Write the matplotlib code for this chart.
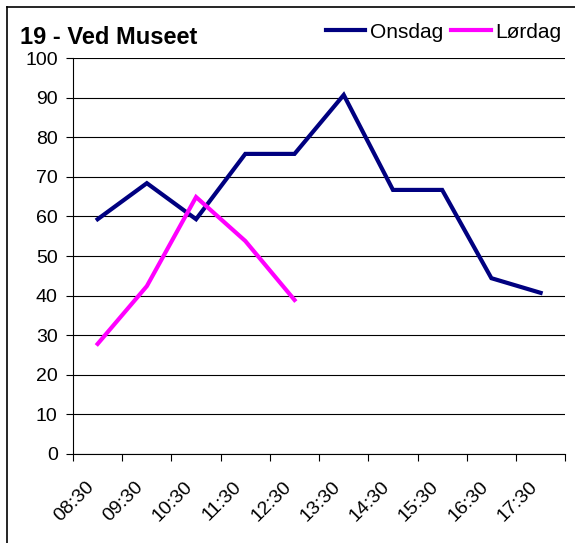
import matplotlib
matplotlib.use('Agg')
import matplotlib.pyplot as plt
import matplotlib.transforms as mtransforms
import numpy as np

plt.rcParams['font.family'] = ['Liberation Sans', 'DejaVu Sans']

times = ['08:30', '09:30', '10:30', '11:30', '12:30', '13:30', '14:30', '15:30', '16:30', '17:30']
onsdag = [59.3, 68.4, 59.3, 75.8, 75.8, 90.7, 66.7, 66.7, 44.4, 40.7]
lordag = [27.8, 42.4, 64.9, 53.8, 38.9]

fig = plt.figure(figsize=(5.75, 5.43), dpi=100)
ax = fig.add_axes([0.127, 0.164, 0.856, 0.729])

x = np.arange(len(times))
ax.plot(x, onsdag, color='#000080', lw=3, label='Onsdag', solid_joinstyle='miter')
ax.plot(x[:len(lordag)], lordag, color='#FF00FF', lw=3, label='Lørdag', solid_joinstyle='miter')

ax.set_xlim(-0.5, len(times) - 0.5)
ax.set_ylim(0, 100)
ax.set_yticks(range(0, 101, 10))
ax.yaxis.grid(True, color='black', lw=0.8)
ax.set_axisbelow(True)
ax.tick_params(axis='y', labelsize=14, length=5, width=0.8, direction='out', pad=6)

ax.set_xticks(x)
ax.set_xticklabels(times, rotation=45, ha='right', va='top', rotation_mode='anchor', fontsize=14)
ax.tick_params(axis='x', length=0, pad=14)
shift = mtransforms.ScaledTranslation(-0.12, -0.05, fig.dpi_scale_trans)
for lab in ax.get_xticklabels():
    lab.set_transform(lab.get_transform() + shift)
ax.set_xticks(np.arange(-0.5, len(times)), minor=True)
ax.tick_params(axis='x', which='minor', length=5, width=0.8)

for s in ['top', 'right']:
    ax.spines[s].set_visible(False)
ax.spines['left'].set_linewidth(0.8)
ax.spines['bottom'].set_linewidth(0.8)

fig.text(20 / 575, 1 - 38 / 543, '19 - Ved Museet', fontsize=17, fontweight='bold', va='center', ha='left')
fig.legend(loc='center right', bbox_to_anchor=(561 / 575, 1 - 32 / 543), ncol=2, frameon=False, fontsize=15,
           handlelength=1.9, handletextpad=0.2, columnspacing=0.4, borderpad=0, borderaxespad=0)

# outer frame
fig.add_artist(plt.Line2D([7 / 575, 7 / 575], [0, 1 - 7 / 543], color='black', lw=1.2))
fig.add_artist(plt.Line2D([7 / 575, 1], [1 - 7 / 543, 1 - 7 / 543], color='black', lw=1.2))

fig.savefig('out.png', dpi=100)
